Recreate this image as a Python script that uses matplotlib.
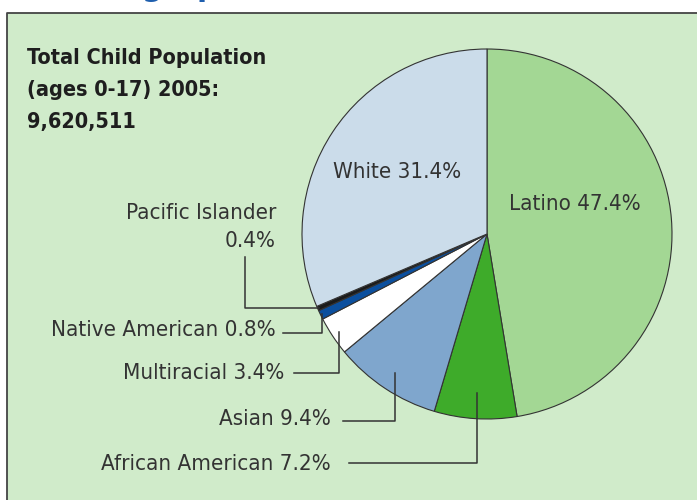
import matplotlib
matplotlib.use("Agg")
import matplotlib.pyplot as plt
import numpy as np
from matplotlib.patches import Rectangle

# data
groups = ["Latino", "African American", "Asian", "Multiracial",
          "Native American", "Pacific Islander", "White"]
shares = [47.4, 7.2, 9.4, 3.4, 0.8, 0.4, 31.4]
colors = ["#a3d794", "#3eab2a", "#7fa6cd", "#ffffff",
          "#0b4f9e", "#1b1b1b", "#cbdcea"]
title_lines = ["Total Child Population", "(ages 0-17) 2005:", "9,620,511"]

plt.rcParams["font.family"] = ["DejaVu Sans"]
plt.rcParams["font.stretch"] = "condensed"
TEXT = "#333333"
BG = "#d0ebca"

fig = plt.figure(figsize=(6.97, 5), dpi=100)
ax = fig.add_axes([0, 0, 1, 1])

# panel background with left/top rule
ax.add_patch(Rectangle((7, 0), 690, 487, facecolor=BG, edgecolor="none", zorder=0))
ax.plot([7, 7, 697], [0, 487, 487], color="#444444", lw=1.3, zorder=1)

# cut-off section heading at the very top
ax.text(48, 503.5, "Demographics", color="#1f5fae", fontsize=21, fontweight="bold",
        fontstretch="normal", ha="left", va="baseline", zorder=2)

cx, cy, r = 487, 266, 185
wedges, _ = ax.pie(shares, colors=colors, startangle=90, counterclock=False,
                   center=(cx, cy), radius=r, frame=True,
                   wedgeprops=dict(edgecolor="#333333", linewidth=0.8))
ax.set_xlim(0, 697)
ax.set_ylim(0, 500)
ax.set_aspect("equal")
ax.axis("off")

for i, line in enumerate(title_lines):
    ax.text(27, 442 - i * 32, line, fontsize=15.5, fontweight="bold",
            color="#1e1e1e", ha="left", va="center")

fs = 16
ax.text(397, 328, f"White {shares[6]}%", fontsize=fs, color=TEXT, ha="center", va="center")
ax.text(575, 296, f"Latino {shares[0]}%", fontsize=fs, color=TEXT, ha="center", va="center")


def anchor(i, frac):
    w = wedges[i]
    ang = np.deg2rad((w.theta1 + w.theta2) / 2)
    return cx + r * frac * np.cos(ang), cy + r * frac * np.sin(ang)


lc = dict(color="#333333", lw=1.1)

# Pacific Islander: left, then up to label
px, py = anchor(5, 0.99)
ax.plot([px, 245, 245], [py, py, 243], **lc)
ax.text(276, 273, f"{groups[5]}\n{shares[5]}%", fontsize=fs, color=TEXT,
        ha="right", va="center", multialignment="right", linespacing=1.5)

# the rest: down, then left to label
callouts = [(4, 0.99, 167, 283, 276, 170),
            (3, 0.96, 127, 294, 284, 127),
            (2, 0.90, 79, 343, 331, 81),
            (1, 0.86, 37, 349, 331, 36)]
for i, frac, ly, lx, tx, ty in callouts:
    ax_, ay_ = anchor(i, frac)
    ax.plot([ax_, ax_, lx], [ay_, ly, ly], **lc)
    ax.text(tx, ty, f"{groups[i]} {shares[i]}%", fontsize=fs, color=TEXT,
            ha="right", va="center")

fig.savefig("out.png", dpi=100)
